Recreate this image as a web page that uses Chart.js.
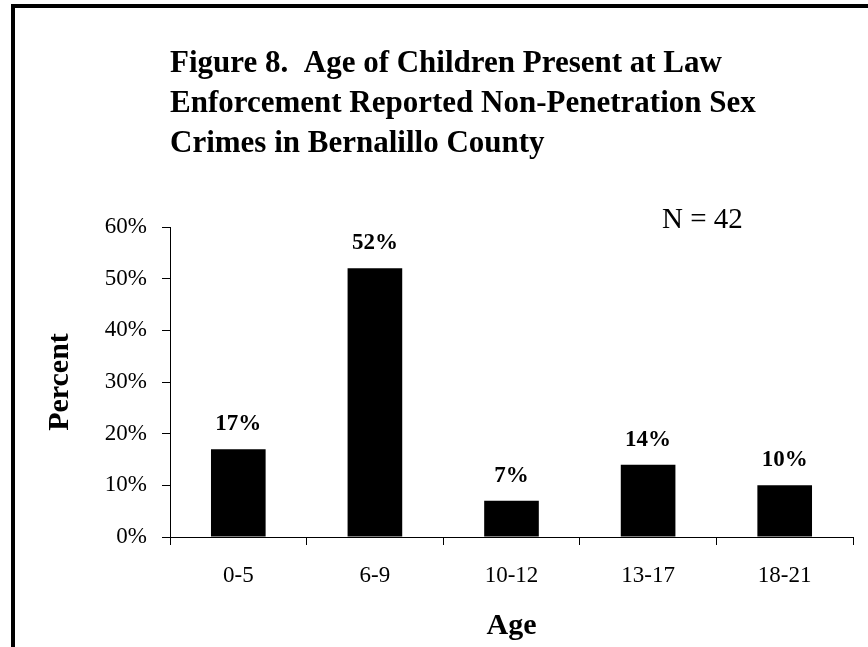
<!DOCTYPE html>
<html>
<head>
<meta charset="utf-8">
<script src="https://cdn.jsdelivr.net/npm/chart.js@4.4.1/dist/chart.umd.min.js"></script>
<style>
  html, body { margin:0; padding:0; background:#fff; overflow:hidden; }
  #wrap { position:relative; width:868px; height:647px; }
</style>
</head>
<body>
<div id="wrap"><canvas id="ageChart"></canvas></div>
<script>
/* Figure 8 — age of children present, non-penetration sex crimes */

const ageLabels  = ["0-5", "6-9", "10-12", "13-17", "18-21"];
const ageValues  = [17, 52, 7, 14, 10];
const titleLines = [
  "Figure 8.  Age of Children Present at Law",
  "Enforcement Reported Non-Penetration Sex",
  "Crimes in Bernalillo County"
];
const noteText = "N = 42";

const SERIF = "'Liberation Serif', 'Times New Roman', serif";
Chart.defaults.font.family = SERIF;
Chart.defaults.color = "#000";

/* frame, heading, N note and bar value labels */
const decor = {
  id: 'decor',
  beforeDraw(chart){
    const c = chart.ctx;
    c.save();
    c.fillStyle = "#fff";
    c.fillRect(0, 0, chart.width, chart.height);
    c.fillStyle = "#000";
    c.fillRect(11, 4, chart.width - 11, 4);
    c.fillRect(11, 4, 4, chart.height - 4);
    c.restore();
  },
  afterDatasetsDraw(chart){
    const c = chart.ctx;
    c.save();
    c.fillStyle = "#000";
    c.textAlign = "left";
    c.textBaseline = "alphabetic";
    c.font = "bold 31px " + SERIF;
    titleLines.forEach((t, i) => c.fillText(t, 170, 72 + i * 40));

    c.font = "29px " + SERIF;
    c.fillText(noteText, 662, 228);

    c.font = "bold 23px " + SERIF;
    c.textAlign = "center";
    chart.getDatasetMeta(0).data.forEach((bar, i) => {
      c.fillText(ageValues[i] + "%", bar.x, bar.y - 19);
    });
    c.restore();
  }
};

new Chart(document.getElementById('ageChart'), {
  type:'bar',
  data:{
    labels: ageLabels,
    datasets:[{
      data: ageValues,
      backgroundColor:"#000",
      borderWidth:0,
      categoryPercentage:1,
      barPercentage:0.4
    }]
  },
  options:{
    responsive:true,
    maintainAspectRatio:false,
    animation:false,
    layout:{ padding:{ top:227, right:15, left:0, bottom:0 } },
    plugins:{ legend:{ display:false }, tooltip:{ enabled:false }, title:{ display:false } },
    scales:{
      x:{
        afterFit: s => { s.height = 110; },
        grid:{ offset:true, drawOnChartArea:false, color:"#000", tickLength:8 },
        border:{ color:"#000", width:1 },
        ticks:{ font:{ size:23 }, padding:17, color:"#000", maxRotation:0 },
        title:{ display:true, text:"Age", font:{ size:30, weight:'bold' }, padding:{ top:0, bottom:3 } }
      },
      y:{
        min:0, max:60,
        afterFit: s => { s.width = 170; },
        grid:{ drawOnChartArea:false, color:"#000", tickLength:8 },
        border:{ color:"#000", width:1 },
        ticks:{ stepSize:10, font:{ size:23 }, padding:15, color:"#000", callback: v => v + "%" },
        title:{ display:true, text:"Percent", font:{ size:30, weight:'bold' }, padding:{ top:42, bottom:0 } }
      }
    }
  },
  plugins:[decor]
});
</script>
</body>
</html>
